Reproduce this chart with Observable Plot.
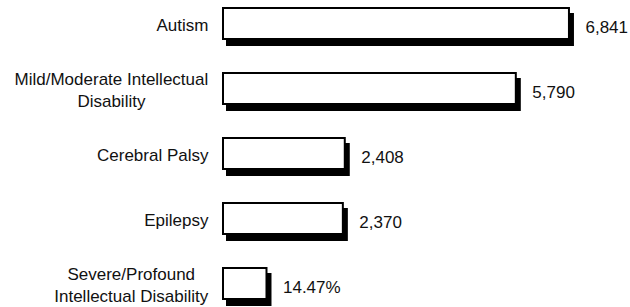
<!DOCTYPE html>
<html>
<head>
<meta charset="utf-8">
<script src="https://cdn.jsdelivr.net/npm/d3@7"></script>
<script src="https://cdn.jsdelivr.net/npm/@observablehq/plot@0.6"></script>
<style>
  html, body { margin: 0; padding: 0; background: #fff; }
</style>
</head>
<body>
<div id="chart"></div>
<script>
const categories = [
  "Autism",
  "Mild/Moderate Intellectual\nDisability",
  "Cerebral Palsy",
  "Epilepsy",
  "Severe/Profound\nIntellectual Disability"
];
const values = [6841, 5790, 2408, 2370, 860];
const valueLabels = ["6,841", "5,790", "2,408", "2,370", "14.47%"];

const data = categories.map((c, i) => ({category: c, value: values[i], label: valueLabels[i]}));

const plot = Plot.plot({
  width: 630,
  height: 307,
  marginLeft: 223,
  marginRight: 53,
  marginTop: 6,
  marginBottom: 7,
  style: {fontFamily: "'Liberation Sans', Arial, sans-serif", fontSize: "17px", background: "#fff", color: "#111"},
  x: {domain: [0, 7000], axis: null},
  y: {domain: categories, axis: null, paddingInner: 0.53, paddingOuter: 0},
  marks: [
    Plot.barX(data, {y: "category", x: "value", fill: "#000", stroke: "#000", strokeWidth: 2, dx: 4, dy: 6}),
    Plot.barX(data, {y: "category", x: "value", fill: "#fff", stroke: "#000", strokeWidth: 2}),
    Plot.text(data, {y: "category", x: 0, text: "category", textAnchor: "end", dx: -15, lineHeight: 1.27, fontSize: 17, fill: "#111"}),
    Plot.text(data, {y: "category", x: "value", text: "label", textAnchor: "start", dx: 16, dy: 4, fontSize: 17, fill: "#111"})
  ]
});

document.getElementById("chart").appendChild(plot);

// center-align multi-line category labels within their right-aligned block
plot.querySelectorAll("text").forEach(t => {
  const spans = t.querySelectorAll("tspan");
  if (spans.length > 1) {
    const w = t.getBBox().width;
    t.setAttribute("text-anchor", "middle");
    spans.forEach(s => s.setAttribute("x", String(-w / 2)));
  }
});
</script>
</body>
</html>
